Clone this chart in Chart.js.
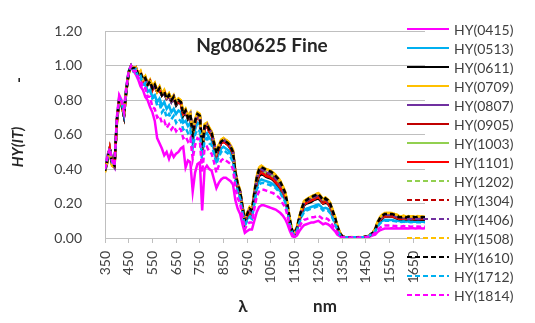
<!DOCTYPE html>
<html>
<head>
<meta charset="utf-8">
<script src="https://cdn.jsdelivr.net/npm/chart.js@4"></script>
<style>
  html, body { margin: 0; padding: 0; background: #ffffff; }
  #c { display: block; }
</style>
</head>
<body>
<canvas id="c" width="535" height="323"></canvas>
<script>
// Wavelength grid (nm), 350 to 1700 every 10 nm
const wavelengths = [];
for (let w = 350; w <= 1700; w += 10) wavelengths.push(w);

// Labelled tick positions on the wavelength axis
const xTickLabels = [350, 450, 550, 650, 750, 850, 950, 1050, 1150, 1250, 1350, 1450, 1550, 1650];

const chartTitle = 'Ng080625 Fine';
const seriesNames = ['HY(0415)', 'HY(0513)', 'HY(0611)', 'HY(0709)', 'HY(0807)', 'HY(0905)', 'HY(1003)',
  'HY(1101)', 'HY(1202)', 'HY(1304)', 'HY(1406)', 'HY(1508)', 'HY(1610)', 'HY(1712)', 'HY(1814)'];

// Normalised spectra, one array per series
const hy0415 = [
  .41,.48,.52,.46,.42,.70,.83,.80,.75,.88,
  .97,1.00,.97,.95,.92,.88,.86,.82,.80,.76,
  .73,.68,.58,.55,.52,.48,.50,.46,.50,.47,
  .49,.50,.52,.53,.41,.45,.44,.27,.38,.43,
  .44,.16,.40,.42,.40,.39,.34,.29,.32,.34,
  .35,.35,.34,.33,.31,.22,.17,.14,.08,.03,
  .04,.05,.05,.10,.15,.18,.19,.19,.185,.18,
  .175,.17,.165,.155,.145,.13,.11,.08,.04,.01,
  .005,.015,.04,.06,.075,.08,.085,.09,.09,.095,
  .10,.09,.08,.085,.08,.07,.055,.04,.02,.01,
  .003,.002,.002,.002,.002,.002,.002,.002,.002,.002,
  .003,.005,.01,.015,.02,.035,.045,.05,.055,.055,
  .055,.056,.055,.056,.055,.057,.055,.056,.055,.057,
  .056,.055,.057,.056,.055,.056];

const hy0513 = [
  .41,.47,.52,.45,.42,.69,.81,.79,.73,.87,
  .97,1.00,.97,.98,.93,.93,.89,.89,.85,.86,
  .82,.83,.79,.81,.77,.79,.75,.77,.73,.75,
  .72,.74,.73,.67,.68,.65,.67,.55,.63,.67,
  .66,.48,.60,.61,.58,.57,.51,.45,.49,.52,
  .53,.52,.51,.49,.46,.35,.28,.24,.16,.08,
  .11,.13,.12,.21,.29,.33,.34,.335,.33,.325,
  .32,.31,.30,.285,.27,.245,.22,.16,.085,.03,
  .022,.048,.095,.135,.16,.17,.175,.18,.185,.19,
  .195,.185,.17,.175,.17,.155,.12,.09,.05,.02,
  .008,.004,.004,.004,.004,.004,.004,.004,.004,.004,
  .006,.01,.018,.027,.042,.07,.09,.10,.105,.105,
  .105,.105,.102,.10,.098,.096,.098,.095,.097,.095,
  .096,.094,.096,.094,.096,.094];

const hy0611 = [
  .40,.45,.52,.44,.42,.68,.80,.78,.72,.86,
  .96,1.00,.98,.98,.95,.95,.92,.92,.89,.90,
  .87,.88,.85,.86,.83,.84,.81,.82,.79,.81,
  .77,.79,.78,.71,.73,.69,.71,.59,.67,.71,
  .70,.51,.64,.65,.62,.60,.54,.48,.52,.55,
  .56,.55,.54,.52,.49,.37,.30,.26,.17,.09,
  .13,.15,.14,.24,.32,.36,.37,.365,.355,.35,
  .345,.335,.32,.305,.29,.26,.235,.17,.09,.035,
  .025,.05,.105,.15,.19,.20,.205,.21,.22,.225,
  .23,.215,.20,.205,.20,.18,.145,.105,.06,.025,
  .008,.005,.004,.004,.004,.004,.004,.004,.004,.004,
  .006,.008,.017,.027,.045,.08,.10,.115,.125,.125,
  .125,.125,.12,.115,.11,.108,.11,.107,.11,.107,
  .108,.106,.108,.106,.108,.106];

const hy0709 = [
  .39,.44,.51,.42,.41,.67,.79,.78,.72,.86,
  .96,1.00,.99,.99,.96,.97,.93,.94,.90,.92,
  .88,.90,.86,.88,.84,.86,.82,.84,.81,.83,
  .79,.81,.80,.73,.75,.71,.73,.61,.69,.73,
  .72,.53,.66,.67,.64,.62,.56,.50,.54,.57,
  .58,.57,.56,.54,.51,.39,.32,.28,.19,.11,
  .15,.17,.16,.27,.36,.41,.42,.41,.40,.395,
  .39,.38,.365,.35,.33,.30,.27,.20,.11,.045,
  .035,.065,.125,.175,.215,.225,.235,.24,.245,.255,
  .26,.245,.225,.235,.225,.205,.165,.125,.075,.035,
  .012,.006,.005,.005,.006,.005,.005,.006,.005,.006,
  .009,.012,.022,.032,.055,.095,.12,.135,.145,.145,
  .145,.145,.14,.135,.128,.125,.13,.122,.128,.124,
  .126,.122,.127,.124,.125,.123];

const hy0807 = [
  .39,.44,.51,.43,.41,.67,.80,.77,.71,.85,
  .96,1.00,.98,.98,.95,.96,.92,.93,.89,.90,
  .87,.88,.85,.87,.83,.84,.81,.83,.79,.82,
  .78,.80,.79,.72,.73,.70,.72,.60,.68,.71,
  .71,.52,.65,.66,.63,.61,.55,.49,.53,.56,
  .57,.56,.55,.53,.50,.38,.31,.27,.18,.10,
  .14,.16,.15,.25,.34,.39,.40,.39,.38,.375,
  .37,.36,.345,.33,.31,.28,.25,.18,.095,.04,
  .03,.055,.115,.165,.205,.215,.225,.23,.235,.245,
  .25,.235,.215,.225,.215,.195,.155,.115,.065,.03,
  .01,.005,.005,.005,.005,.005,.005,.005,.005,.005,
  .008,.01,.02,.03,.05,.085,.11,.125,.135,.135,
  .135,.135,.13,.125,.118,.118,.12,.117,.12,.118,
  .12,.118,.12,.118,.12,.118];

const hy0905 = [
  .40,.45,.52,.43,.42,.68,.80,.78,.71,.86,
  .96,1.00,.98,.99,.95,.96,.91,.93,.89,.91,
  .86,.89,.85,.86,.83,.85,.81,.82,.80,.81,
  .78,.79,.78,.72,.73,.70,.71,.60,.67,.71,
  .70,.52,.64,.65,.62,.60,.54,.48,.52,.55,
  .56,.55,.54,.52,.49,.37,.30,.26,.17,.10,
  .13,.15,.14,.24,.33,.37,.38,.375,.365,.36,
  .355,.345,.33,.315,.295,.27,.24,.175,.09,.035,
  .028,.055,.11,.155,.195,.205,.215,.22,.225,.235,
  .24,.225,.205,.215,.205,.185,.145,.11,.06,.028,
  .01,.005,.005,.005,.005,.005,.005,.005,.005,.005,
  .008,.01,.019,.029,.047,.083,.105,.12,.128,.128,
  .128,.128,.124,.12,.113,.113,.115,.112,.114,.112,
  .113,.111,.113,.111,.113,.111];

const hy1003 = [
  .40,.45,.52,.43,.42,.68,.80,.78,.71,.86,
  .96,1.00,.98,.99,.95,.96,.92,.93,.89,.91,
  .87,.89,.85,.87,.83,.85,.81,.83,.80,.82,
  .78,.80,.79,.72,.74,.70,.72,.60,.68,.72,
  .71,.52,.65,.66,.63,.61,.55,.49,.53,.56,
  .57,.56,.55,.53,.50,.38,.31,.27,.18,.10,
  .14,.16,.15,.25,.335,.38,.39,.385,.375,.37,
  .365,.355,.34,.325,.305,.275,.245,.18,.095,.04,
  .03,.055,.115,.16,.20,.21,.22,.225,.23,.24,
  .245,.23,.21,.22,.21,.19,.15,.11,.065,.03,
  .01,.005,.005,.005,.005,.005,.005,.005,.005,.005,
  .008,.01,.02,.03,.048,.085,.108,.122,.13,.13,
  .13,.13,.126,.122,.115,.115,.117,.114,.116,.114,
  .115,.113,.115,.113,.115,.113];

const hy1101 = [
  .40,.45,.52,.43,.42,.68,.80,.78,.71,.86,
  .96,1.00,.98,.99,.95,.96,.91,.93,.89,.91,
  .86,.89,.85,.86,.83,.85,.81,.82,.80,.81,
  .78,.79,.78,.72,.73,.70,.71,.60,.67,.71,
  .70,.52,.64,.65,.62,.60,.54,.48,.52,.55,
  .56,.55,.54,.52,.49,.37,.30,.26,.17,.10,
  .13,.15,.14,.24,.33,.37,.38,.37,.36,.355,
  .35,.34,.325,.31,.29,.265,.235,.17,.09,.035,
  .028,.055,.11,.155,.195,.205,.212,.218,.225,.232,
  .238,.222,.203,.212,.203,.183,.143,.108,.06,.028,
  .01,.005,.005,.005,.005,.005,.005,.005,.005,.005,
  .008,.01,.019,.029,.047,.082,.104,.118,.126,.126,
  .126,.126,.122,.118,.112,.112,.114,.111,.113,.111,
  .112,.11,.112,.11,.112,.11];

const hy1202 = [
  .40,.45,.52,.43,.42,.68,.80,.78,.71,.86,
  .96,1.00,.98,.99,.95,.96,.92,.93,.89,.91,
  .87,.89,.85,.87,.83,.85,.81,.83,.80,.82,
  .78,.80,.79,.72,.74,.70,.72,.60,.68,.72,
  .71,.52,.65,.66,.63,.61,.55,.49,.53,.56,
  .57,.56,.55,.53,.50,.38,.31,.27,.18,.10,
  .14,.16,.15,.25,.335,.38,.39,.385,.375,.37,
  .365,.355,.34,.325,.305,.275,.245,.18,.095,.04,
  .03,.055,.115,.16,.20,.21,.22,.225,.23,.24,
  .245,.23,.21,.22,.21,.19,.15,.11,.065,.03,
  .01,.005,.005,.005,.005,.005,.005,.005,.005,.005,
  .008,.01,.02,.03,.048,.085,.108,.122,.13,.13,
  .13,.13,.126,.122,.115,.115,.117,.114,.116,.114,
  .115,.113,.115,.113,.115,.113];

const hy1304 = [
  .40,.45,.52,.43,.42,.68,.80,.78,.71,.86,
  .96,1.00,.98,.99,.95,.96,.92,.93,.89,.91,
  .87,.89,.85,.87,.83,.85,.81,.83,.80,.82,
  .78,.80,.79,.72,.74,.70,.72,.60,.68,.72,
  .71,.52,.65,.66,.63,.61,.55,.49,.53,.56,
  .57,.56,.55,.53,.50,.38,.31,.27,.18,.10,
  .14,.17,.16,.25,.335,.38,.39,.385,.375,.37,
  .365,.355,.34,.325,.305,.275,.245,.18,.095,.04,
  .03,.055,.115,.16,.20,.21,.22,.225,.23,.24,
  .245,.23,.21,.22,.21,.19,.15,.11,.065,.03,
  .01,.005,.005,.005,.005,.005,.005,.005,.005,.005,
  .008,.01,.02,.03,.048,.085,.108,.122,.13,.13,
  .13,.13,.126,.122,.115,.115,.117,.114,.116,.114,
  .115,.113,.115,.113,.115,.113];

const hy1406 = [
  .39,.44,.51,.43,.41,.67,.80,.77,.71,.85,
  .96,1.00,.98,.98,.95,.96,.92,.93,.89,.90,
  .87,.88,.85,.87,.83,.84,.81,.83,.79,.82,
  .78,.80,.79,.72,.73,.70,.72,.60,.68,.71,
  .71,.52,.65,.66,.63,.61,.55,.49,.53,.56,
  .57,.56,.55,.53,.50,.38,.31,.27,.18,.10,
  .14,.16,.15,.25,.34,.39,.40,.39,.38,.375,
  .37,.36,.345,.33,.31,.28,.25,.18,.095,.04,
  .03,.055,.115,.165,.205,.215,.225,.23,.235,.245,
  .25,.235,.215,.225,.215,.195,.155,.115,.065,.03,
  .01,.005,.005,.005,.005,.005,.005,.005,.005,.005,
  .008,.01,.02,.03,.05,.085,.11,.125,.135,.135,
  .135,.135,.13,.125,.118,.118,.12,.117,.12,.118,
  .12,.118,.12,.118,.12,.118];

const hy1508 = [
  .38,.44,.50,.42,.41,.66,.79,.77,.71,.85,
  .95,1.00,.98,.99,.95,.97,.92,.94,.89,.92,
  .88,.90,.85,.88,.84,.86,.82,.84,.80,.83,
  .79,.81,.80,.73,.75,.71,.73,.60,.69,.73,
  .72,.52,.66,.67,.64,.62,.56,.50,.54,.57,
  .58,.57,.56,.54,.51,.39,.32,.27,.18,.10,
  .15,.18,.17,.27,.36,.41,.42,.41,.40,.395,
  .39,.38,.365,.35,.33,.30,.27,.20,.11,.045,
  .035,.065,.125,.175,.215,.225,.235,.24,.25,.255,
  .26,.245,.225,.235,.225,.205,.165,.125,.075,.035,
  .01,.005,.005,.005,.005,.005,.005,.005,.005,.005,
  .008,.012,.022,.032,.055,.095,.12,.135,.145,.145,
  .145,.145,.14,.135,.13,.125,.128,.125,.127,.125,
  .126,.124,.126,.125,.126,.124];

const hy1610 = [
  .39,.45,.52,.43,.42,.68,.80,.78,.71,.86,
  .96,1.00,.98,.99,.95,.96,.92,.93,.89,.91,
  .87,.89,.85,.87,.83,.85,.81,.83,.80,.82,
  .78,.80,.79,.72,.74,.70,.72,.60,.68,.72,
  .71,.52,.65,.66,.63,.61,.55,.49,.53,.56,
  .57,.56,.55,.53,.50,.38,.31,.27,.18,.10,
  .14,.17,.16,.26,.35,.40,.41,.405,.395,.39,
  .385,.375,.36,.345,.325,.295,.265,.195,.105,.04,
  .03,.06,.12,.17,.21,.22,.23,.235,.245,.25,
  .255,.24,.22,.23,.22,.20,.16,.12,.07,.03,
  .01,.005,.005,.005,.005,.005,.005,.005,.005,.005,
  .008,.01,.02,.03,.05,.09,.115,.13,.14,.14,
  .14,.14,.135,.13,.122,.12,.125,.12,.124,.12,
  .122,.12,.123,.12,.122,.12];

const hy1712 = [
  .40,.46,.52,.44,.42,.69,.81,.79,.72,.87,
  .97,1.00,.97,.98,.93,.94,.89,.90,.85,.86,
  .81,.82,.77,.78,.73,.75,.70,.72,.69,.71,
  .67,.69,.68,.63,.64,.61,.63,.52,.60,.63,
  .62,.44,.57,.58,.55,.54,.49,.43,.47,.50,
  .51,.50,.49,.47,.44,.33,.27,.23,.15,.07,
  .10,.12,.11,.20,.28,.31,.32,.32,.315,.31,
  .305,.30,.29,.275,.26,.235,.21,.15,.08,.03,
  .02,.045,.09,.125,.15,.16,.165,.17,.175,.18,
  .185,.175,.16,.165,.16,.145,.115,.085,.05,.02,
  .008,.004,.004,.004,.004,.004,.004,.004,.004,.004,
  .006,.01,.018,.025,.04,.065,.085,.095,.10,.10,
  .10,.10,.098,.096,.095,.093,.095,.092,.094,.092,
  .093,.091,.093,.091,.093,.091];

const hy1814 = [
  .40,.47,.52,.45,.42,.69,.82,.79,.73,.87,
  .97,1.00,.97,.97,.93,.92,.87,.87,.82,.82,
  .76,.75,.70,.71,.67,.68,.64,.66,.63,.65,
  .62,.64,.63,.58,.59,.56,.58,.46,.54,.58,
  .57,.38,.52,.53,.50,.49,.44,.38,.42,.45,
  .46,.45,.44,.43,.40,.29,.23,.20,.12,.05,
  .08,.09,.09,.17,.24,.27,.28,.28,.275,.27,
  .265,.26,.25,.24,.225,.20,.18,.13,.06,.02,
  .01,.03,.065,.09,.105,.11,.115,.12,.12,.125,
  .13,.12,.11,.115,.11,.095,.075,.055,.03,.012,
  .004,.003,.003,.003,.003,.003,.003,.003,.003,.003,
  .005,.008,.014,.02,.03,.048,.06,.068,.072,.072,
  .072,.072,.07,.069,.068,.067,.069,.066,.068,.066,
  .067,.065,.067,.065,.067,.065];

const seriesValues = [hy0415, hy0513, hy0611, hy0709, hy0807, hy0905, hy1003,
  hy1101, hy1202, hy1304, hy1406, hy1508, hy1610, hy1712, hy1814];

// Line styles: colour and whether the series is dashed
const seriesColors = ['#FF00FF', '#00B0F0', '#000000', '#FFC000', '#7030A0', '#C00000', '#92D050',
  '#FF0000', '#92D050', '#C00000', '#7030A0', '#FFC000', '#000000', '#00B0F0', '#FF00FF'];
const seriesDashed = [false, false, false, false, false, false, false,
  false, true, true, true, true, true, true, true];

const FONT = 'Lato, "Liberation Sans", "DejaVu Sans", sans-serif';
const TEXT = '#404040';
const GRID = '#BFBFBF';
const DASH = [5, 3];

const datasets = seriesNames.map((name, i) => ({
  label: name,
  data: wavelengths.map((w, k) => ({ x: w, y: seriesValues[i][k] })),
  borderColor: seriesColors[i],
  backgroundColor: seriesColors[i],
  borderWidth: 2.5,
  borderDash: seriesDashed[i] ? DASH : [],
  pointRadius: 0,
  tension: 0,
  fill: false,
  order: seriesNames.length - i   // later series drawn above earlier ones
}));

// Title, axis titles and the legend drawn onto the canvas
const decorations = {
  id: 'decorations',
  afterDraw(chart) {
    const { ctx, chartArea: a } = chart;
    ctx.save();

    ctx.fillStyle = '#262626';
    ctx.font = 'bold 19px ' + FONT;
    ctx.textAlign = 'center';
    ctx.textBaseline = 'middle';
    ctx.fillText(chartTitle, a.left + 157, a.top + 14);

    // horizontal axis title
    ctx.fillStyle = '#262626';
    ctx.font = 'bold 17px ' + FONT;
    ctx.fillText('λ', 243, 307);
    ctx.fillText('nm', 325, 307);

    // vertical axis title
    ctx.save();
    ctx.translate(18, 147);
    ctx.rotate(-Math.PI / 2);
    ctx.font = 'italic bold 15px ' + FONT;
    ctx.fillText('HY(IT)', 0, 0);
    ctx.restore();
    ctx.save();
    ctx.translate(19, 80);
    ctx.rotate(-Math.PI / 2);
    ctx.font = 'bold 15px ' + FONT;
    ctx.fillText('-', 0, 0);
    ctx.restore();

    // legend
    ctx.font = '14px ' + FONT;
    ctx.textAlign = 'left';
    seriesNames.forEach((name, i) => {
      const y = 29 + i * 19;
      ctx.beginPath();
      ctx.setLineDash(seriesDashed[i] ? DASH : []);
      ctx.strokeStyle = seriesColors[i];
      ctx.lineWidth = 2;
      ctx.moveTo(407, y);
      ctx.lineTo(449, y);
      ctx.stroke();
      ctx.setLineDash([]);
      ctx.fillStyle = TEXT;
      ctx.fillText(name, 454, y + 1);
    });
    ctx.restore();
  }
};

new Chart(document.getElementById('c'), {
  type: 'line',
  data: { datasets },
  plugins: [decorations],
  options: {
    responsive: false,
    animation: false,
    devicePixelRatio: 1,
    layout: { padding: { left: 0, top: 17, right: 110, bottom: 0 } },
    plugins: { legend: { display: false }, tooltip: { enabled: false } },
    scales: {
      x: {
        type: 'linear',
        min: 350,
        max: 1700,
        afterBuildTicks: (axis) => { axis.ticks = xTickLabels.map(v => ({ value: v })); },
        afterFit: (axis) => { axis.height = 85; },
        grid: { drawOnChartArea: false, drawTicks: true, tickLength: 5, color: GRID, lineWidth: 1 },
        border: { display: true, color: GRID, width: 1 },
        ticks: {
          autoSkip: false,
          minRotation: 90,
          maxRotation: 90,
          padding: 8,
          color: TEXT,
          font: { family: FONT, size: 14 },
          callback: (v) => String(v)
        }
      },
      y: {
        min: 0,
        max: 1.2,
        afterFit: (axis) => { axis.width = 105; },
        grid: { drawTicks: false, color: GRID, lineWidth: 1 },
        border: { display: true, color: GRID, width: 1 },
        ticks: {
          stepSize: 0.2,
          padding: 23,
          color: TEXT,
          font: { family: FONT, size: 14 },
          callback: (v) => Number(v).toFixed(2)
        }
      }
    }
  }
});
</script>
</body>
</html>
